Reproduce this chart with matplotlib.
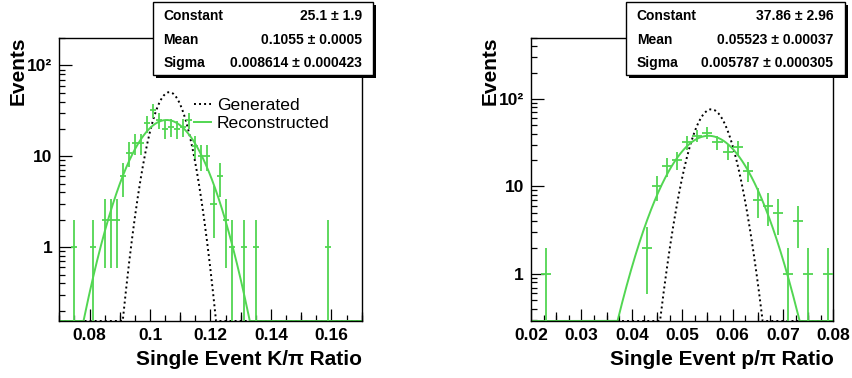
import numpy as np
import matplotlib
matplotlib.use("Agg")
import matplotlib.pyplot as plt
from matplotlib.patches import Rectangle
from matplotlib.ticker import FixedLocator, FuncFormatter, NullFormatter

plt.rcParams['font.family'] = ['Liberation Sans', 'DejaVu Sans']
plt.rcParams['font.weight'] = 'bold'

# ---------------- data ----------------
bin_width = 0.002

kpi_centers = [0.075, 0.081, 0.085, 0.087, 0.089, 0.091, 0.093, 0.095, 0.097,
               0.099, 0.101, 0.103, 0.105, 0.107, 0.109, 0.111, 0.113, 0.115,
               0.117, 0.119, 0.121, 0.123, 0.125, 0.127, 0.131, 0.135, 0.159]
kpi_counts = [1, 1, 2, 2, 2, 6, 11, 14, 14,
              23, 32, 25, 20, 21, 20, 21, 25, 13,
              10, 10, 3, 6, 2, 1, 1, 1, 1]

ppi_centers = [0.023, 0.043, 0.045, 0.047, 0.049, 0.051, 0.053, 0.055, 0.057,
               0.059, 0.061, 0.063, 0.065, 0.067, 0.069, 0.071, 0.073, 0.075,
               0.079]
ppi_counts = [1, 2, 10, 17, 20, 32, 38, 41, 32,
              25, 28, 15, 7, 6, 5, 1, 4, 1,
              1]

# Gaussian parameters (constant, mean, sigma)
kpi_fit = (25.1, 0.1055, 0.008614)
kpi_gen = (50.8, 0.1064, 0.00453)
ppi_fit = (37.86, 0.05523, 0.005787)
ppi_gen = (76.0, 0.05578, 0.00305)

stat_names = ["Constant", "Mean", "Sigma"]
kpi_stats = ["25.1 \u00b1 1.9", "0.1055 \u00b1 0.0005", "0.008614 \u00b1 0.000423"]
ppi_stats = ["37.86 \u00b1 2.96", "0.05523 \u00b1 0.00037", "0.005787 \u00b1 0.000305"]

legend_labels = ["Generated", "Reconstructed"]
kpi_xlabel = "Single Event K/\u03c0 Ratio"
ppi_xlabel = "Single Event p/\u03c0 Ratio"

GREEN = '#52d652'
W, H = 853, 378

fig = plt.figure(figsize=(W / 100, H / 100), dpi=100)


def fx(x):
    return x / W


def fy(y):
    return 1 - y / H


def make_panel(left_px, centers, counts, fit, gen, xlim, ylim,
               major_x, mid_x, minor_x, xlabel, stats, box_px):
    ax = fig.add_axes([fx(left_px), fy(321), 302.4 / W, 283.3 / H])
    ax.set_yscale('log')
    ax.set_xlim(*xlim)
    ax.set_ylim(*ylim)

    c = np.array(centers)
    n = np.array(counts, dtype=float)
    err = np.sqrt(n)
    lo = n - np.maximum(n - err, ylim[0] * 0.5)
    ax.errorbar(c, n, xerr=bin_width / 2, yerr=[lo, err], fmt='none',
                ecolor=GREEN, elinewidth=1.3, capsize=0, zorder=3)

    xs = np.linspace(xlim[0], xlim[1], 1500)
    A, m, s = gen
    yg = np.maximum(A * np.exp(-0.5 * ((xs - m) / s) ** 2), ylim[0])
    A, m, s = fit
    yf = np.maximum(A * np.exp(-0.5 * ((xs - m) / s) ** 2), ylim[0])
    l1, = ax.plot(xs, yg, color='black', lw=1.4, ls=(0, (1, 1.6)), zorder=2)
    l2, = ax.plot(xs, yf, color=GREEN, lw=1.4, zorder=2)

    # ticks
    ax.xaxis.set_major_locator(FixedLocator(major_x))
    ax.xaxis.set_minor_locator(FixedLocator(minor_x))
    ax.xaxis.set_major_formatter(FuncFormatter(lambda v, p: ('%g' % round(v, 4))))
    ax.xaxis.set_minor_formatter(NullFormatter())
    sec = ax.secondary_xaxis('bottom')
    sec.set_xticks(mid_x)
    sec.tick_params(direction='in', length=6.5, width=0.9, labelbottom=False)
    for sp in sec.spines.values():
        sp.set_visible(False)

    ax.yaxis.set_major_locator(FixedLocator([1, 10, 100]))
    ax.yaxis.set_major_formatter(FuncFormatter(
        lambda v, p: {1: '1', 10: '10', 100: '10\u00b2'}.get(int(round(v)), '')))
    yminor = [k * 10.0 ** e for e in range(-1, 3) for k in range(2, 10)]
    ax.yaxis.set_minor_locator(FixedLocator(yminor))
    ax.yaxis.set_minor_formatter(NullFormatter())

    ax.tick_params(axis='both', which='major', direction='in', length=9,
                   width=0.9, labelsize=12.5, top=False, right=False)
    ax.tick_params(axis='both', which='minor', direction='in', length=4.5,
                   width=0.9, top=False, right=False)
    ax.tick_params(axis='x', which='major', pad=5)
    ax.tick_params(axis='y', which='major', pad=5)
    for sp in ax.spines.values():
        sp.set_linewidth(1.0)

    # labels
    fig.text(fx(left_px + 302.4), fy(365), xlabel, ha='right', va='baseline',
             fontsize=15, fontweight='bold')

    # stats box
    bx0, by0, bx1, by1, tx0, tx1 = box_px
    fig.add_artist(Rectangle((fx(bx0 + 3), fy(by1 + 3)), (bx1 - bx0) / W,
                             (by1 - by0) / H, transform=fig.transFigure,
                             facecolor='black', edgecolor='none', zorder=10))
    fig.add_artist(Rectangle((fx(bx0), fy(by1)), (bx1 - bx0) / W,
                             (by1 - by0) / H, transform=fig.transFigure,
                             facecolor='white', edgecolor='black', lw=1.0,
                             zorder=11))
    for i, (nm, val) in enumerate(zip(stat_names, stats)):
        yc = fy(15.7 + i * 23.8)
        fig.text(fx(tx0), yc, nm, ha='left', va='center', fontsize=10,
                 fontweight='bold', zorder=12)
        fig.text(fx(tx1), yc, val, ha='right', va='center', fontsize=10,
                 fontweight='bold', zorder=12)
    return ax, l1, l2


axL, g1, g2 = make_panel(59.3, kpi_centers, kpi_counts, kpi_fit, kpi_gen,
                         (0.07, 0.17), (0.154, 202),
                         [0.08, 0.10, 0.12, 0.14, 0.16],
                         [0.07, 0.09, 0.11, 0.13, 0.15, 0.17],
                         list(np.round(np.arange(0.07, 0.1701, 0.005), 4)),
                         kpi_xlabel, kpi_stats,
                         (153.3, 1.7, 372.7, 75, 163.3, 361.7))

axR, _, _ = make_panel(531.0, ppi_centers, ppi_counts, ppi_fit, ppi_gen,
                       (0.02, 0.08), (0.29, 500),
                       [0.02, 0.03, 0.04, 0.05, 0.06, 0.07, 0.08],
                       list(np.round(np.arange(0.025, 0.08, 0.01), 4)),
                       list(np.round(np.arange(0.02, 0.0801, 0.0025), 5)),
                       ppi_xlabel, ppi_stats,
                       (625.7, 1.7, 845.0, 75, 636.7, 833.3))

fig.text(fx(18), fy(36.7), "Events", rotation=90, ha='center', va='top',
         fontsize=15, fontweight='bold')
fig.text(fx(490), fy(36.7), "Events", rotation=90, ha='center', va='top',
         fontsize=15, fontweight='bold')

axL.legend([g1, g2], legend_labels, loc='upper left',
           bbox_to_anchor=(fx(194), fy(98)), bbox_transform=fig.transFigure,
           frameon=False, borderpad=0, borderaxespad=0, handlelength=1.0,
           handletextpad=0.3, labelspacing=0.15,
           prop={'size': 12.6, 'weight': 'normal'})

fig.savefig("out.png", dpi=100)
